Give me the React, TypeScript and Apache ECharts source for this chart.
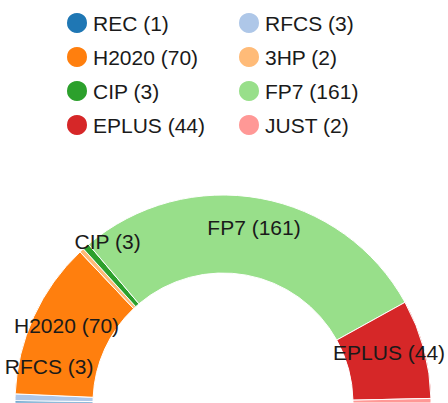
import React, { useEffect, useRef } from "react";
import * as echarts from "echarts";

const categories = ["REC", "RFCS", "H2020", "3HP", "CIP", "FP7", "EPLUS", "JUST"];
const values = [1, 3, 70, 2, 3, 161, 44, 2];
const colors = ["#1f77b4", "#aec7e8", "#ff7f0e", "#ffbb78", "#2ca02c", "#98df8a", "#d62728", "#ff9896"];
const leftLegend = ["REC", "H2020", "CIP", "EPLUS"];
const rightLegend = ["RFCS", "3HP", "FP7", "JUST"];
const hiddenLabels = ["REC", "3HP", "JUST"];
const liftedLabels = ["RFCS", "CIP"];

export default function App() {
  const ref = useRef<HTMLDivElement>(null);
  useEffect(() => {
    if (!ref.current) return;
    const chart = echarts.init(ref.current, null, { renderer: "svg" });
    const valueOf: Record<string, number> = {};
    categories.forEach((c, i) => (valueOf[c] = values[i]));
    const font = "Liberation Sans, Arial, sans-serif";
    const legendBase = {
      orient: "vertical" as const,
      top: 6,
      padding: 5,
      itemWidth: 22,
      itemHeight: 22,
      itemGap: 10,
      icon: "circle",
      formatter: (n: string) => `${n} (${valueOf[n]})`,
      textStyle: { fontSize: 21, lineHeight: 21, color: "#1a1a1a", fontFamily: font },
    };
    chart.setOption({
      animation: false,
      color: colors,
      legend: [
        { ...legendBase, left: 60, data: leftLegend },
        { ...legendBase, left: 232, data: rightLegend },
      ],
      series: [
        {
          type: "pie",
          center: [223, 403],
          radius: [130, 208],
          startAngle: 180,
          endAngle: 0,
          clockwise: true,
          itemStyle: { borderColor: "#fff", borderWidth: 1 },
          label: {
            show: true,
            position: "inside",
            formatter: "{b} ({c})",
            fontSize: 21,
            color: "#1a1a1a",
            fontFamily: font,
            offset: [0, -6],
          },
          labelLine: { show: false },
          emphasis: { disabled: true },
          data: categories.map((c, i) => ({
            name: c,
            value: values[i],
            label: hiddenLabels.includes(c)
              ? { show: false }
              : liftedLabels.includes(c)
              ? { offset: [-2, -32] }
              : {},
          })),
        },
      ],
    });
    return () => chart.dispose();
  }, []);
  return (
    <div
      ref={ref}
      style={{ position: "absolute", left: 0, top: 0, width: 448, height: 403 }}
    />
  );
}
